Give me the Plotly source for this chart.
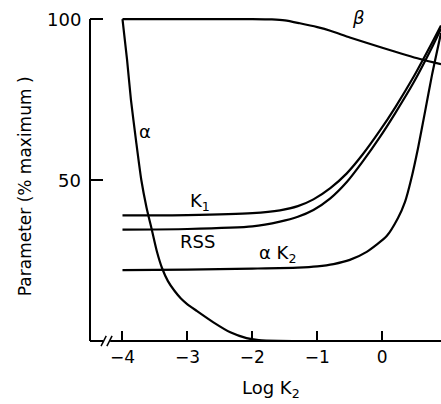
import plotly.graph_objects as go

# Axis extents (log K2 on x, percent of maximum on y)
X_RANGE = [-4.5, 0.904]
Y_RANGE = [0, 105]

x_ticks = [-4, -3, -2, -1, 0]
x_tick_text = ["\u22124", "\u22123", "\u22122", "\u22121", "0"]
y_ticks = [50, 100]
y_tick_text = ["50", "100"]

# alpha
alpha_x = [-4.0, -3.93, -3.87, -3.79, -3.71, -3.63, -3.55, -3.47, -3.39, -3.3, -3.2,
           -3.1, -3.0, -2.86, -2.6, -2.34, -2.09, -1.9, -1.6, -1.2, 0.904]
alpha_y = [100, 87.5, 75, 62, 50, 41.5, 34.7, 27.8, 22.6, 18.6, 15.6,
           13.2, 11.4, 9.4, 5.8, 2.7, 0.9, 0.3, 0.05, 0, 0]

# beta
beta_x = [-4.0, -2.0, -1.7, -1.5, -1.27, -1.0, -0.8, -0.5, 0.0, 0.58, 0.904]
beta_y = [100, 100, 99.9, 99.6, 98.7, 97.5, 96.4, 94.3, 91.1, 87.6, 86.0]

# K1
k1_x = [-4.0, -3.0, -2.0, -1.575, -1.3, -1.06, -0.8, -0.55, -0.3, -0.035, 0.2, 0.48, 0.78, 0.904]
k1_y = [39.0, 39.1, 39.7, 40.6, 41.9, 44.0, 47.5, 52.0, 58.0, 65.4, 72.6, 82.0, 93.2, 98.0]

# RSS
rss_x = [-4.0, -3.0, -2.0, -1.575, -1.3, -1.06, -0.8, -0.55, -0.3, -0.035, 0.2, 0.48, 0.78, 0.904]
rss_y = [34.6, 34.8, 35.6, 37.1, 38.6, 40.7, 44.3, 49.3, 55.8, 63.4, 70.8, 80.2, 91.8, 97.0]

# alpha * K2
ak2_x = [-4.0, -3.0, -2.0, -1.3, -1.0, -0.75, -0.5, -0.24, 0.068, 0.242, 0.35,
         0.442, 0.55, 0.657, 0.765, 0.904]
ak2_y = [22.0, 22.2, 22.5, 22.8, 23.2, 23.9, 25.2, 27.7, 32.6, 38.2, 43.2,
         50.0, 59.9, 71.1, 82.6, 95.7]

curves = [(alpha_x, alpha_y), (beta_x, beta_y), (k1_x, k1_y),
          (rss_x, rss_y), (ak2_x, ak2_y)]

FONT = "DejaVu Sans"

fig = go.Figure()
for cx, cy in curves:
    fig.add_trace(go.Scatter(
        x=cx, y=cy, mode="lines",
        line=dict(color="black", width=2.2, shape="spline", smoothing=0.6),
        hoverinfo="skip",
    ))


def px(v):
    return (v - X_RANGE[0]) / (X_RANGE[1] - X_RANGE[0])


def py(v):
    return (v - Y_RANGE[0]) / (Y_RANGE[1] - Y_RANGE[0])


line_style = dict(color="black", width=2)
shapes = [
    # left axis, up to 100
    dict(type="line", xref="paper", yref="paper", x0=0, x1=0, y0=py(0), y1=py(100), line=line_style),
    # bottom axis with a break near the origin
    dict(type="line", xref="paper", yref="paper", x0=0, x1=px(-4.30), y0=py(0), y1=py(0), line=line_style),
    dict(type="line", xref="paper", yref="paper", x0=px(-4.19), x1=1, y0=py(0), y1=py(0), line=line_style),
    dict(type="line", xref="paper", yref="paper", x0=px(-4.33), x1=px(-4.25), y0=py(-1.6), y1=py(1.6), line=dict(color="black", width=1.5)),
    dict(type="line", xref="paper", yref="paper", x0=px(-4.24), x1=px(-4.16), y0=py(-1.6), y1=py(1.6), line=dict(color="black", width=1.5)),
]

label_font = dict(family=FONT, size=18, color="black")
annotations = [
    dict(x=-2.81, y=43.3, text="K<sub>1</sub>"),
    dict(x=-2.84, y=30.8, text="RSS"),
    dict(x=-1.62, y=27.0, text="α K<sub>2</sub>"),
    dict(x=-3.65, y=65, text="α"),
    dict(x=-0.36, y=100.5, text="<i>β</i>"),
]
for a in annotations:
    a.update(xref="x", yref="y", showarrow=False, font=label_font)

# y tick labels, set a little away from the axis line
for val, txt in zip(y_ticks, y_tick_text):
    annotations.append(dict(xref="paper", yref="y", x=0, y=val, xanchor="right", yanchor="middle",
                            xshift=-7, text=txt, showarrow=False,
                            font=dict(family=FONT, size=18, color="black")))

annotations.append(dict(xref="paper", yref="paper", x=px(-1.71), y=py(-15), xanchor="center", yanchor="middle",
                        text="Log K<sub>2</sub>", showarrow=False,
                        font=dict(family=FONT, size=18, color="black")))
annotations.append(dict(xref="paper", yref="paper", x=px(-5.49), y=py(48), xanchor="center", yanchor="middle",
                        text="Parameter (% maximum )", textangle=-90, showarrow=False,
                        font=dict(family=FONT, size=17, color="black")))

fig.update_layout(
    width=441, height=404,
    margin=dict(l=90, r=0, t=3, b=63),
    paper_bgcolor="white", plot_bgcolor="white",
    showlegend=False,
    shapes=shapes,
    annotations=annotations,
    xaxis=dict(range=X_RANGE, showgrid=False, zeroline=False, showline=False,
               ticks="inside", ticklen=10, tickwidth=2, tickcolor="black",
               tickvals=x_ticks, ticktext=x_tick_text, ticklabelstandoff=4,
               tickfont=dict(family=FONT, size=17, color="black")),
    yaxis=dict(range=Y_RANGE, showgrid=False, zeroline=False, showline=False,
               ticks="inside", ticklen=13, tickwidth=2, tickcolor="black",
               tickvals=y_ticks, showticklabels=False),
)

fig.write_html("out.html")
